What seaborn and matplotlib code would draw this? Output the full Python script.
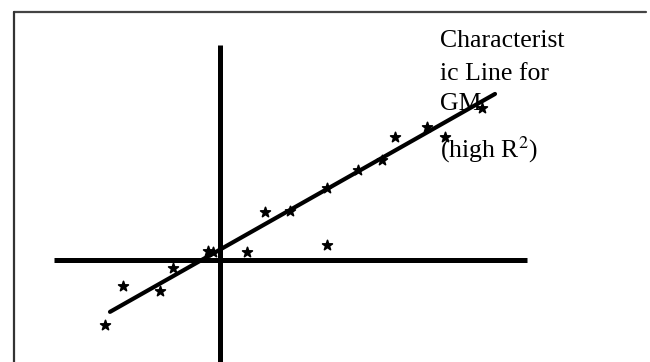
import matplotlib
matplotlib.use("Agg")
import matplotlib.pyplot as plt
from matplotlib.lines import Line2D
import seaborn as sns
import pandas as pd

sns.set_theme(style="white")
plt.rcParams["font.family"] = ["Liberation Serif", "DejaVu Serif"]
plt.rcParams["mathtext.fontset"] = "stix"

# Monthly returns (%): market vs. GM stock
market_ret = [-5.75, -4.85, -3.0, -2.35, -0.6, -0.35, 1.35, 2.25, 3.5,
              5.35, 5.35, 6.9, 8.1, 8.75, 10.35, 11.25, 13.1]
gm_ret = [-3.25, -1.3, -1.55, -0.4, 0.45, 0.4, 0.4, 2.4, 2.45,
          0.75, 3.6, 4.5, 5.0, 6.15, 6.65, 6.15, 7.6]

# Characteristic line: GM = alpha + beta * market
alpha = 0.52
beta = 0.566
line_x = [-5.5, 13.75]

# Extent of the drawn axis crosshair
x_axis_span = [-8.3, 15.35]
y_axis_span = [-5.6, 10.75]

label_lines = ["Characterist", "ic Line for", "GM", r"(high R$^{2}$)"]

df = pd.DataFrame({"market": market_ret, "gm": gm_ret})
line_df = pd.DataFrame({"market": line_x,
                        "gm": [alpha + beta * v for v in line_x]})
hx = pd.DataFrame({"x": x_axis_span, "y": [0, 0]})
vy = pd.DataFrame({"x": [0, 0], "y": y_axis_span})

fig = plt.figure(figsize=(6.5, 3.62), dpi=100)
fig.patch.set_facecolor("white")
ax = fig.add_axes([0, 0, 1, 1])
ax.set_xlim(-11.0, 21.5)
ax.set_ylim(-5.1, 13.0)
ax.axis("off")

# Crosshair axes
for seg in (hx, vy):
    sns.lineplot(data=seg, x="x", y="y", color="black", lw=3.6, sort=False,
                 estimator=None, ax=ax, solid_capstyle="butt")

# Characteristic line
sns.lineplot(data=line_df, x="market", y="gm", color="black", lw=3.0,
             sort=False, estimator=None, ax=ax)

# Observations
sns.scatterplot(data=df, x="market", y="gm", marker="*", s=55,
                color="black", edgecolor="black", linewidth=1.2, ax=ax,
                zorder=5)

ax.set_xlabel("")
ax.set_ylabel("")

# Frame around the slide area (top and left edges)
W, H = 650.0, 362.0
fig.add_artist(Line2D([14 / W, 646 / W], [1 - 12 / H, 1 - 12 / H],
                      color="#444444", lw=1.6, transform=fig.transFigure))
fig.add_artist(Line2D([14 / W, 14 / W], [1 - 12 / H, 0],
                      color="#333333", lw=1.6, transform=fig.transFigure))

baselines = [47, 80, 110, 157]
for txt, by in zip(label_lines, baselines):
    fig.text(440 / W, 1 - by / H, txt, fontsize=18.5, color="black",
             ha="left", va="baseline")

fig.savefig("out.png", dpi=100, facecolor="white")
